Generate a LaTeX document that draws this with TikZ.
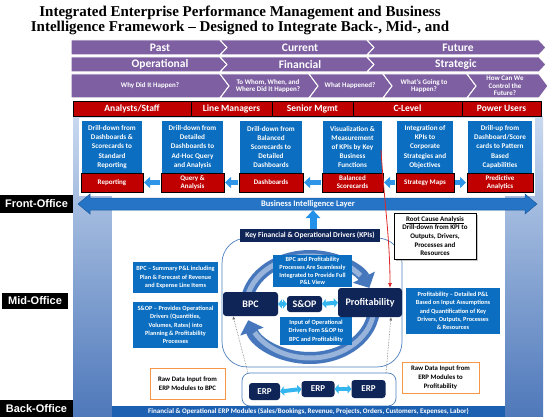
\documentclass[tikz,border=0pt]{standalone}
\usepackage{fontspec}
\setmainfont{Carlito}
\newfontfamily\titlefont{Liberation Serif}
\newfontfamily\lblfont{Liberation Sans}
\usetikzlibrary{arrows.meta,shadows}
\definecolor{purp}{HTML}{7E60A2}
\definecolor{hdrred}{HTML}{C00000}
\definecolor{bbox}{HTML}{0B6EC0}
\definecolor{navy}{HTML}{0F2557}
\definecolor{arrblue}{HTML}{2E95E8}
\definecolor{biblue}{HTML}{2574C6}
\definecolor{biedge}{HTML}{1A5AA0}
\definecolor{cyanarr}{HTML}{33B5F0}
\definecolor{circ}{HTML}{4677BC}
\definecolor{frameblue}{HTML}{4F81BD}
\definecolor{uparr}{HTML}{2391EA}
\definecolor{barblue}{HTML}{1C60B2}
\definecolor{rawor}{HTML}{F79646}
\definecolor{paneltop}{HTML}{C8D8EF}
\definecolor{panelbot}{HTML}{4E78BA}
\definecolor{redln}{HTML}{E02828}
\begin{document}
\begin{tikzpicture}[x=1pt,y=-1pt,
  every node/.style={inner sep=0pt, outer sep=0pt},
  purptxt/.style={text=white, align=center, font=\bfseries\fontsize{11.5}{12}\selectfont},
  purpsm/.style={text=white, align=center, font=\bfseries\fontsize{7}{7.6}\selectfont},
  hdr/.style={draw=black, line width=0.6pt, fill=hdrred, text=white, font=\bfseries\fontsize{9.5}{11}\selectfont, minimum height=15pt},
  bluebox/.style={fill=bbox, text=white, align=center, font=\bfseries\fontsize{7.2}{9.2}\selectfont, minimum height=52pt},
  redlbl/.style={fill=hdrred, draw=black, line width=0.6pt, text=white, align=center, font=\bfseries\fontsize{7}{8}\selectfont, minimum height=19pt},
  blockarr/.style={line width=5pt, draw=arrblue, -{Triangle[width=11pt,length=6pt]}, shorten >=1pt, shorten <=1pt},
  offlbl/.style={fill=black, text=white, font=\lblfont\bfseries\fontsize{11}{12}\selectfont},
  navybox/.style={fill=navy, text=white, rounded corners=3pt, font=\bfseries\fontsize{10}{11}\selectfont},
  midtxt/.style={fill=bbox, text=white, align=center, font=\bfseries\fontsize{6.3}{8.3}\selectfont},
  rawbox/.style={draw=rawor, line width=0.8pt, fill=white, text=black, align=center, font=\bfseries\fontsize{6.8}{9}\selectfont},
  dblarr/.style={line width=4pt, draw=cyanarr, {Triangle[width=9pt,length=4pt]}-{Triangle[width=9pt,length=4pt]}},
  circarr/.style={line width=12pt, draw=circ, -{Triangle[width=24pt,length=12pt]}},
  circhl/.style={line width=5pt, draw=circ!55!white},
  dotarr/.style={densely dotted, draw=black!55, line width=0.6pt, -{Latex[length=3.5pt,width=3pt]}},
  purpseg/.style={fill=purp, draw=white, line width=1pt}
]
\useasboundingbox (0,0) rectangle (549,417);
\fill[white] (0,0) rectangle (549,417);

% title
\node[font=\titlefont\bfseries\fontsize{15}{15.5}\selectfont, align=center] (title) at (240,20.5)
  {Integrated Enterprise Performance Management and Business\\Intelligence Framework – Designed to Integrate Back-, Mid-, and};

% purple rows
\path[purpseg] (71,40) -- (220,40) -- (227,47.5) -- (220,55) -- (71,55) -- cycle;
\path[purpseg] (220,40) -- (367,40) -- (374,47.5) -- (367,55) -- (220,55) -- (227,47.5) -- cycle;
\path[purpseg] (367,40) -- (539,40) -- (546,47.5) -- (539,55) -- (367,55) -- (374,47.5) -- cycle;
\path[purpseg] (71,57) -- (220,57) -- (227,64.5) -- (220,72) -- (71,72) -- cycle;
\path[purpseg] (220,57) -- (367,57) -- (374,64.5) -- (367,72) -- (220,72) -- (227,64.5) -- cycle;
\path[purpseg] (367,57) -- (539,57) -- (546,64.5) -- (539,72) -- (367,72) -- (374,64.5) -- cycle;
\path[purpseg] (71,74) -- (220,74) -- (229,86) -- (220,98) -- (71,98) -- cycle;
\path[purpseg] (220,74) -- (309,74) -- (318,86) -- (309,98) -- (220,98) -- (229,86) -- cycle;
\path[purpseg] (309,74) -- (383,74) -- (392,86) -- (383,98) -- (309,98) -- (318,86) -- cycle;
\path[purpseg] (383,74) -- (467,74) -- (476,86) -- (467,98) -- (383,98) -- (392,86) -- cycle;
\path[purpseg] (467,74) -- (539,74) -- (548,86) -- (539,98) -- (467,98) -- (476,86) -- cycle;
\node[purptxt] (past) at (160,47.5) {Past};
\node[purptxt] (current) at (300,47.5) {Current};
\node[purptxt] (future) at (458,47.5) {Future};
\node[purptxt] (oper) at (160,64.5) {Operational};
\node[purptxt] (fin) at (300,64.5) {Financial};
\node[purptxt] (strat) at (456,64.5) {Strategic};
\node[purpsm] (q1) at (150,86) {Why Did It Happen?};
\node[purpsm] (q2) at (268,86) {To Whom, When, and\\Where Did It Happen?};
\node[purpsm] (q3) at (350,86) {What Happened?};
\node[purpsm] (q4) at (424,86) {What's Going to\\Happen?};
\node[purpsm] (q5) at (505,86) {How Can We\\Control the\\Future?};

% background panel
\shade[top color=paneltop, bottom color=panelbot] (73,117) rectangle (543,417);
\fill[white] (79,118) rectangle (535,196);
\fill[white] (112,196) rectangle (505,406);

% header row
\node[hdr, minimum width=118pt] (hA) at (132,108.5) {Analysts/Staff};
\node[hdr, minimum width=81pt] (hL) at (231.5,108.5) {Line Managers};
\node[hdr, minimum width=81pt] (hS) at (312.5,108.5) {Senior Mgmt};
\node[hdr, minimum width=109pt] (hC) at (407.5,108.5) {C-Level};
\node[hdr, minimum width=79pt] (hP) at (501.5,108.5) {Power Users};

% blue boxes
\node[bluebox, minimum width=60pt] (b1) at (112,147) {Drill-down from\\Dashboards \&\\Scorecards to\\Standard\\Reporting};
\node[bluebox, minimum width=61pt] (b2) at (192.5,147) {Drill-down from\\Detailed\\Dashboards to\\Ad-Hoc Query\\and Analysis};
\node[bluebox, minimum width=62pt] (b3) at (271,147) {Drill-down from\\Balanced\\Scorecards to\\Detailed\\Dashboards};
\node[bluebox, minimum width=59pt] (b4) at (352.5,147) {Visualization \&\\Measurement\\of KPIs by Key\\Business\\Functions};
\node[bluebox, minimum width=56pt] (b5) at (425,147) {Integration of\\KPIs to\\Corporate\\Strategies and\\Objectives};
\node[bluebox, minimum width=64pt] (b6) at (500,147) {Drill-up from\\Dashboard/Score\\cards to Pattern\\Based\\Capabilities};

\node[redlbl, minimum width=62pt] (r1) at (112,182.5) {Reporting};
\node[redlbl, minimum width=63pt] (r2) at (192.5,182.5) {Query \&\\Analysis};
\node[redlbl, minimum width=64pt] (r3) at (271,182.5) {Dashboards};
\node[redlbl, minimum width=61pt] (r4) at (352.5,182.5) {Balanced\\Scorecards};
\node[redlbl, minimum width=58pt] (r5) at (425,182.5) {Strategy Maps};
\node[redlbl, minimum width=66pt] (r6) at (500,182.5) {Predictive\\Analytics};

\draw[blockarr] (r2.west) -- (r1.east);
\draw[blockarr] (r3.west) -- (r2.east);
\draw[blockarr] (r4.west) -- (r3.east);
\draw[blockarr] (r5.west) -- (r4.east);
\draw[blockarr] (r5.east) -- (r6.west);

% business intelligence layer
\filldraw[fill=biblue, draw=biedge, line width=0.5pt] (78,204) -- (90,194) -- (90,198) -- (525,198) -- (525,194) -- (537,204) -- (525,214) -- (525,210) -- (90,210) -- (90,214) -- cycle;
\node[text=white, font=\bfseries\fontsize{8.5}{9}\selectfont] (bi) at (308,204) {Business Intelligence Layer};
\coordinate (bibot) at (313,210);

% office labels
\node[offlbl, minimum width=73pt, minimum height=18pt] (fo) at (36.5,204) {Front-Office};
\node[offlbl, minimum width=66pt, minimum height=16pt] (mo) at (35,301) {Mid-Office};
\node[offlbl, minimum width=73pt, minimum height=17pt] (bo) at (36.5,408.5) {Back-Office};

% frame around cycle
\draw[draw=frameblue, line width=0.7pt, rounded corners=25pt] (222,238) rectangle (402,367);

% cycle arrows
\draw[circarr] (246.24,302.56) arc[start angle=185, end angle=338, x radius=64, y radius=51];
\draw[circarr] (373.76,302.56) arc[start angle=-5, end angle=165, x radius=64, y radius=51];
\draw[circhl] (246.24,302.56) arc[start angle=185, end angle=322, x radius=64, y radius=51];
\draw[circhl] (373.76,302.56) arc[start angle=-5, end angle=150, x radius=64, y radius=51];

% KPI
\node[fill=navy, text=white, font=\bfseries\fontsize{7.5}{8}\selectfont, minimum width=140pt, minimum height=13pt] (kpi) at (310,235.5) {Key Financial \& Operational Drivers (KPIs)};
\draw[line width=7pt, draw=uparr, -{Triangle[width=14pt,length=8pt]}] ([xshift=3pt]kpi.north) -- (bibot);

% mid text boxes
\node[midtxt, minimum width=85pt, minimum height=31pt] (tbpc) at (175.5,277.5) {BPC – Summary P\&L including\\Plan \& Forecast of Revenue\\and Expense Line Items};
\node[midtxt, minimum width=85pt, minimum height=46pt] (tsop) at (175.5,325) {S\&OP – Provides Operational\\Drivers (Quantities,\\Volumes, Rates) into\\Planning \& Profitability\\Processes};
\node[midtxt, minimum width=79pt, minimum height=32pt, font=\bfseries\fontsize{6.3}{7.8}\selectfont] (tint) at (312.5,271) {BPC and Profitability\\Processes Are Seamlessly\\Integrated to Provide Full\\P\&L View};
\node[midtxt, minimum width=72pt, minimum height=28pt] (tinp) at (316,331) {Input of Operational\\Drivers Fom S\&OP to\\BPC and Profitability};
\node[midtxt, minimum width=94pt, minimum height=46pt] (tprof) at (453,311) {Profitability – Detailed P\&L\\Based on Input Assumptions\\and Quantification of Key\\Drivers, Outputs, Processes\\\& Resources};

% core boxes
\node[navybox, minimum width=55pt, minimum height=24pt] (bpc) at (250.5,304) {BPC};
\node[navybox, minimum width=35pt, minimum height=16pt] (sop) at (304.5,304) {S\&OP};
\node[navybox, minimum width=64pt, minimum height=29pt] (prof) at (370,302.5) {Profitability};
\draw[dblarr] (bpc.east) -- (sop.west);
\draw[dblarr] (sop.east) -- (prof.west);

% root cause
\node[draw=black, line width=0.8pt, fill=white, drop shadow={shadow xshift=1.5pt, shadow yshift=-1.5pt, fill=black!45}, align=center, font=\bfseries\fontsize{7}{8.7}\selectfont, minimum width=82pt, minimum height=46pt] (rca) at (435,236) {\underline{Root Cause Analysis}\\Drill-down from KPI to\\Outputs, Drivers,\\Processes and\\Resources};

% red drill line
\draw[draw=redln, line width=0.8pt, -{Latex[length=5pt,width=4pt]}] ([xshift=-1pt,yshift=-3pt]b4.east) .. controls +(3,50) and +(0,-50) .. ([xshift=20pt]prof.north);

% ERP
\node[draw=frameblue, line width=0.7pt, fill=white, rounded corners=8pt, minimum width=154pt, minimum height=33pt] (erpf) at (319,389.5) {};
\node[navybox, font=\bfseries\fontsize{9}{10}\selectfont, minimum width=31pt, minimum height=17pt] (erp1) at (264.5,391.5) {ERP};
\node[navybox, font=\bfseries\fontsize{9}{10}\selectfont, minimum width=33pt, minimum height=16pt] (erp2) at (318,389) {ERP};
\node[navybox, font=\bfseries\fontsize{9}{10}\selectfont, minimum width=34pt, minimum height=18pt] (erp3) at (368.5,389) {ERP};
\draw[dblarr] (erp1.east) -- (erp2.west);
\draw[dblarr] (erp2.east) -- (erp3.west);

\draw[dotarr] ([xshift=6pt]erpf.north west) -- ([xshift=10pt]bpc.south west);
\draw[dotarr] ([xshift=-10pt]erpf.north east) -- ([xshift=21pt]prof.south);

\node[rawbox, minimum width=75pt, minimum height=31pt] (raw1) at (187.5,383.5) {Raw Data  Input from\\ERP Modules to BPC};
\node[rawbox, minimum width=77pt, minimum height=31pt] (raw2) at (440.5,377.5) {Raw Data  Input from\\ERP Modules to\\Profitability};

\node[fill=barblue, text=white, font=\bfseries\fontsize{7}{8}\selectfont, minimum width=393pt, minimum height=11pt] (bar) at (308.5,411.5) {Financial \& Operational  ERP Modules (Sales/Bookings, Revenue, Projects, Orders, Customers,  Expenses, Labor)};
\end{tikzpicture}
\end{document}
